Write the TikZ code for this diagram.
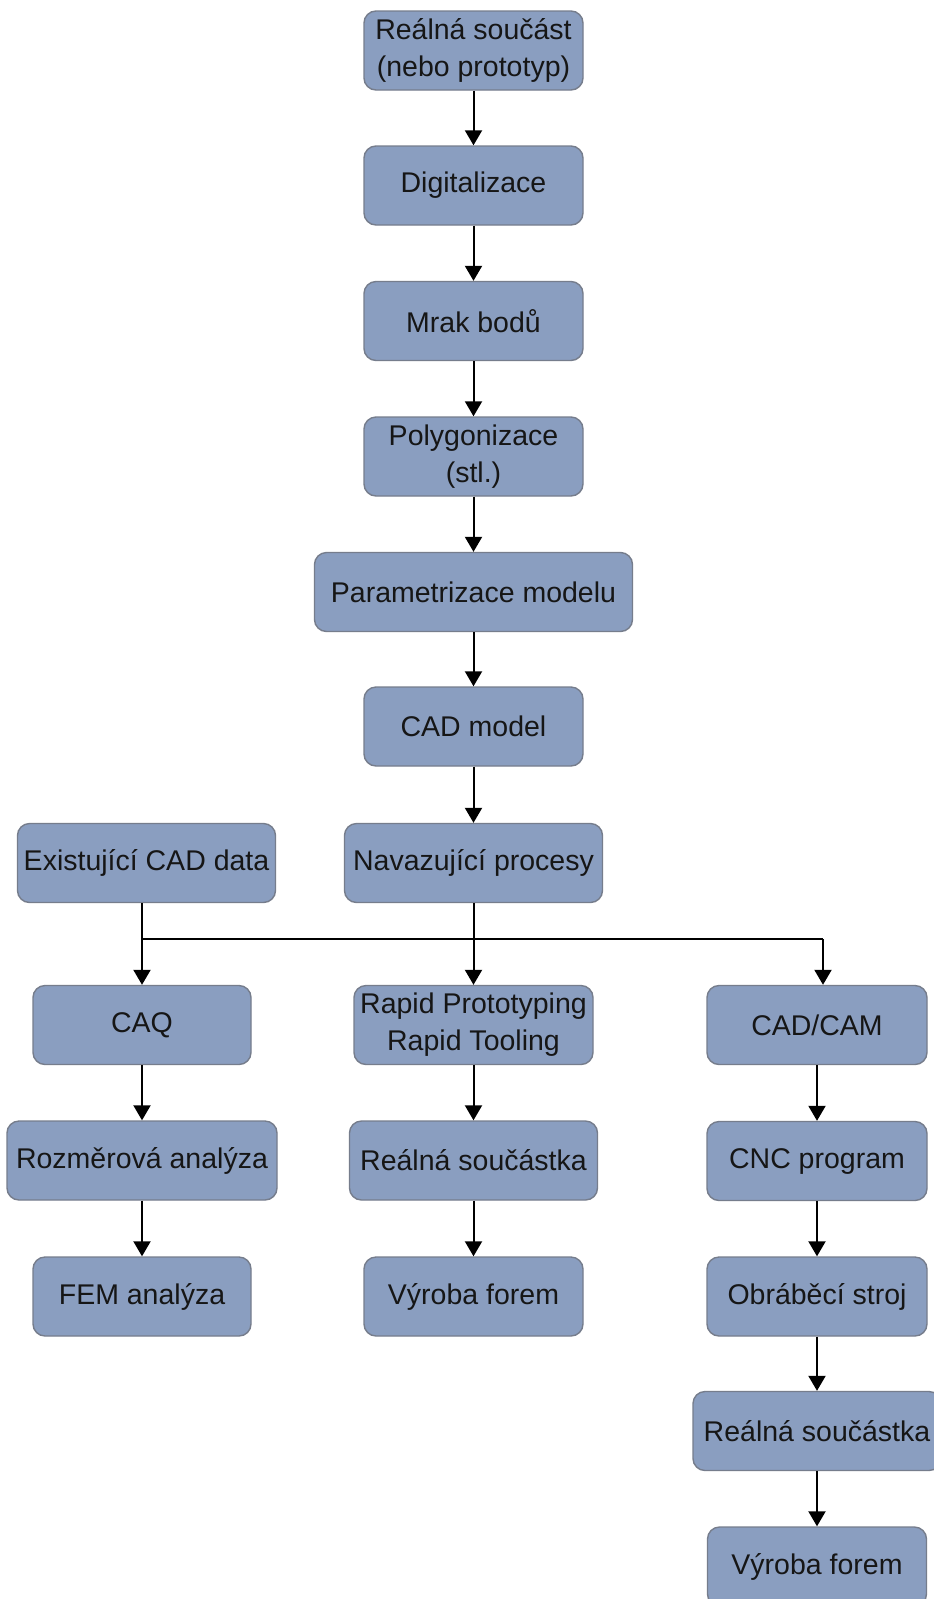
\documentclass[tikz,border=0pt]{standalone}
\usepackage{fontspec}
\setmainfont{Liberation Sans}
\usetikzlibrary{arrows.meta,calc}
\definecolor{boxfill}{RGB}{138,158,192}
\definecolor{boxline}{RGB}{118,125,140}
\definecolor{txt}{RGB}{22,22,22}
\begin{document}
\begin{tikzpicture}[x=1pt,y=-1pt,
  box/.style={draw=boxline, line width=1.4pt, fill=boxfill, rounded corners=12pt,
    minimum height=79pt, minimum width=219pt, inner sep=0pt, align=center,
    text=txt, font=\fontsize{28.5pt}{37pt}\selectfont},
  conn/.style={draw=black, line width=2pt},
  arr/.style={conn, -{Triangle[width=17pt,length=15pt]}}]
\useasboundingbox (0,0) rectangle (934,1599);
\clip (0,0) rectangle (934,1599);
\fill[white] (0,0) rectangle (934,1599);

% main column
\node[box] (real) at (473.5,50.5) {Reálná součást\\(nebo prototyp)};
\node[box] (digi) at (473.5,185.5) {Digitalizace};
\node[box] (mrak) at (473.5,321) {Mrak bodů};
\node[box] (poly) at (473.5,456.5) {Polygonizace\\(stl.)};
\node[box, minimum width=318pt] (param) at (473.5,592) {Parametrizace modelu};
\node[box] (cad) at (473.5,726.5) {CAD model};
\node[box, minimum width=258pt] (exist) at (146.5,863) {Existující CAD data};
\node[box, minimum width=258pt] (nav) at (473.5,863) {Navazující procesy};

% branches
\node[box, minimum width=218pt] (caq) at (142,1025) {CAQ};
\node[box, minimum width=239pt] (rp) at (473.5,1025) {Rapid Prototyping\\Rapid Tooling};
\node[box, minimum width=220pt] (cadcam) at (817,1025) {CAD/CAM};

\node[box, minimum width=270pt] (rozm) at (142,1160.5) {Rozměrová analýza};
\node[box, minimum width=248pt] (real2) at (473.5,1160.5) {Reálná součástka};
\node[box, minimum width=220pt] (cnc) at (817,1161) {CNC program};

\node[box, minimum width=218pt] (fem) at (142,1296.5) {FEM analýza};
\node[box] (vyr1) at (473.5,1296.5) {Výroba forem};
\node[box, minimum width=220pt] (obr) at (817,1296.5) {Obráběcí stroj};

\node[box, minimum width=248pt] (real3) at (817,1431) {Reálná součástka};
\node[box] (vyr2) at (817,1566.5) {Výroba forem};

% junction coordinates
\coordinate (jL) at (142,939);
\coordinate (jR) at (823,939);

% connectors main column
\draw[arr] (real) -- (digi);
\draw[arr] (digi) -- (mrak);
\draw[arr] (mrak) -- (poly);
\draw[arr] (poly) -- (param);
\draw[arr] (param) -- (cad);
\draw[arr] (cad) -- (nav);

% branching
\draw[conn] (exist.south -| jL) -- (jL) -- (jR);
\draw[arr] (jL) -- (caq.north);
\draw[arr] (jR) -- (jR |- cadcam.north);
\draw[arr] (nav) -- (rp);

% left column
\draw[arr] (caq) -- (rozm);
\draw[arr] (rozm) -- (fem);
% middle column
\draw[arr] (rp) -- (real2);
\draw[arr] (real2) -- (vyr1);
% right column
\draw[arr] (cadcam) -- (cnc);
\draw[arr] (cnc) -- (obr);
\draw[arr] (obr) -- (real3);
\draw[arr] (real3) -- (vyr2);
\end{tikzpicture}
\end{document}
